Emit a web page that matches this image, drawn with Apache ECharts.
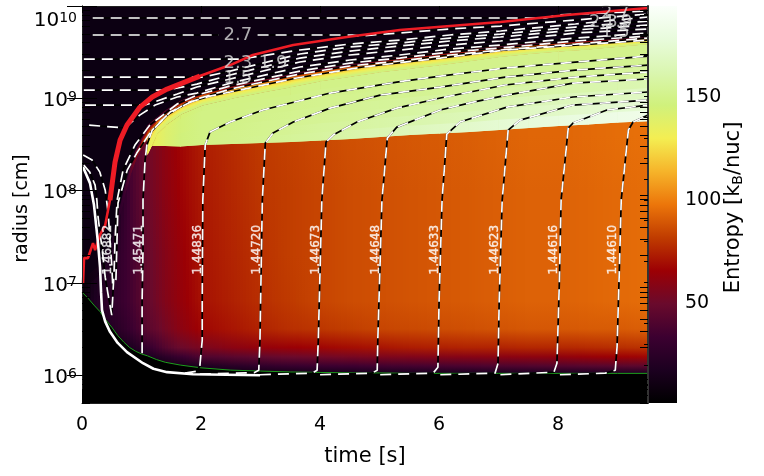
<!DOCTYPE html>
<html><head><meta charset="utf-8">
<style>html,body{margin:0;padding:0;background:#fff}#c{width:764px;height:476px}</style>
<script src="https://cdn.jsdelivr.net/npm/echarts@6/dist/echarts.min.js"></script>
</head><body><div id="c"></div>
<script>
// ---------- colour table (entropy 2..193, evenly spaced) ----------
const COLORMAP = ['#000000','#1c0020','#3c0030','#6a0a2c','#9c0004','#c03c00','#ec760a','#f6b42a','#f4ee52','#d0f17c','#daf6b0','#e8fbdc','#fbfffb'];
const S_MIN = 1.5, S_MAX = 194;
// ---------- background columns ----------
const TIMES = [0,.1,.2,.3,.4,.5,.6,.7,.8,.9,1,1.1,1.25,1.4,1.65,2,2.5,3,3.5,4,4.5,5,5.5,6,6.5,7,7.5,8,8.5,9,9.51];
const PNS_LOGR = [6.90,6.835,6.76,6.69,6.60,6.52,6.43,6.36,6.30,6.26,6.23,6.21,6.17,6.14,6.11,6.08,6.055,6.045,6.035,6.03,6.025,6.025,6.02,6.02,6.02,6.02,6.02,6.02,6.02,6.02,6.02];
const EDGE_LOGR = [6.900,6.987,7.041,7.095,7.203,7.366,7.637,7.908,8.146,8.341,8.472,8.569,8.710,8.797,8.905,9.003,9.079,9.144,9.203,9.263,9.312,9.360,9.398,9.436,9.474,9.512,9.545,9.566,9.588,9.610,9.631];
const BAND_DEX = [.1,.1,.1,.1,.1,.1,.1,.1,.1,.1,.1,.14,.08,.07,.065,.065,.065,.065,.065,.06,.06,.06,.06,.06,.055,.05,.05,.045,.045,.04,.035];
const BAND_PEAK = [8,10,12,14,16,20,25,32,42,58,75,132,136,140,146,150,150,150,150,150,150,150,150,150,150,150,150,150,150,150,150];
const BAND_OFFSETS = [1,.8,.6,.45,.3,.15,0,-.2,-.4,-.6,-.8,-1,-1.3];
const BAND_S = [9,30,55,72,85,100,112,118,125,130,136,140,145];
const FIRST_GREEN = 11;
const IFACE_LOGR = [8.482,8.482,8.482,8.477,8.493,8.504,8.515,8.526,8.542,8.558,8.580,8.602,8.618,8.634,8.656,8.678,8.699,8.715,8.737,8.753];
const GREEN_U = [0,.14,.28,.43,.57,.71,.86,1];
const GREEN_ROW1 = [130,134,138,143,147,148,148,148,149,149,150,150,150,150,150,150,150,150,150,150];
const GREEN_ROW2 = [130,134,139,144,148,148,149,149,150,150,151,151,151,152,152,152,152,152,152,152];
const GREEN_ROW3 = [130,134,139,144,148,148,150,150,151,151,152,152,153,154,154,155,155,155,155,156];
const GREEN_ROW4 = [130,134,139,144,148,149,150,151,152,153,154,155,156,157,158,159,160,160,161,162];
const GREEN_ROW5 = [130,134,139,145,148,149,151,152,153,154,156,157,159,160,162,164,165,166,167,168];
const GREEN_ROW6 = [130,134,139,145,148,150,151,153,155,156,158,160,162,164,166,168,170,172,173,175];
const GREEN_ROW7 = [130,134,139,145,148,150,152,154,156,159,162,165,168,171,174,176,178,180,182,183];
const WIND_LOGR = [8.6,8.0,7.3,6.8,6.5,6.3,6.2,6.1,6.03];
const WIND_R0 = [5,5,5,5,5,8,16,29,37,43,47,51,56,61,67,73,77,81,83,85,87,88,89,90,91,92,93,93,94,95,96];
const WIND_R1 = [5,5,5,5,5,8,15,28,36,42,46,50,55,60,66,72,76,80,82,84,86,87,88,89,90,91,92,92,93,94,95];
const WIND_R2 = [5,8,12,15,18,22,28,32,36,40,44,48,53,58,64,71,75,79,82,84,86,87,88,89,90,91,92,92,93,94,95];
const WIND_R3 = [5,12,18,22,26,28,30,33,36,40,44,47,52,57,63,70,74,78,81,84,86,87,88,89,90,91,92,92,93,94,95];
const WIND_R4 = [5,10,14,18,20,22,25,28,32,36,40,44,48,53,60,67,71,75,78,80,82,84,85,86,87,88,89,89,90,90,91];
const WIND_R5 = [3,4,6,8,10,12,14,16,18,22,26,30,36,42,50,55,60,63,65,67,69,71,73,74,75,75,76,76,77,78,79];
const WIND_R6 = [3,3,4,5,6,7,8,10,12,13,15,18,21,25,32,40,44,47,50,52,54,56,57,58,59,60,61,62,64,66,67];
const WIND_R7 = [2,2,3,3,4,4,5,6,7,8,9,10,11,12,14,18,24,28,31,33,34,36,37,38,39,40,41,42,43,44,45];
const WIND_R8 = [2,2,2,2,3,3,3,3,4,4,4,5,6,7,8,10,12,14,15,16,17,18,18,19,19,20,20,21,21,22,22];
// ---------- tracer lines: [time, log10 radius] ----------
const LINE_A = [[.18,9.87],[7.78,9.87],[8.03,9.905],[9.51,9.945]];
const LINE_B = [[.18,9.686],[2.3,9.686],null,[2.95,9.686],[4.54,9.686],[4.67,9.675],[5.34,9.707],[6.18,9.751],[7.03,9.783],[8.29,9.848],[9.51,9.913]];
const LINE_C = [[.03,9.425],[2.66,9.425],[3.66,9.523],[4.50,9.588],[5.34,9.631],[6.18,9.686],[7.03,9.729],[8.29,9.805],[9.51,9.881]];
const LINE_D = [[.03,9.23],[2.03,9.23],[2.49,9.295],[3.66,9.48],[4.50,9.556],[5.34,9.599],[6.18,9.653],[7.03,9.696],[8.29,9.772],[9.51,9.837]];
const LINE_E = [[.03,9.089],[1.43,9.089],[1.93,9.154],[2.49,9.252],[3.66,9.436],[4.50,9.512],[5.34,9.566],[6.18,9.621],[7.03,9.664],[8.29,9.74],[9.51,9.794]];
const LINE_F = [[.05,8.927],[1.06,8.927],[1.60,9.046],[1.93,9.122],[2.49,9.209],[3.66,9.393],[4.50,9.469],[5.34,9.523],[6.18,9.577],[7.03,9.621],[8.29,9.707],[9.51,9.751]];
const LINE_G = [[.12,8.71],[.72,8.678],[.97,8.818],[1.23,8.927],[1.60,9.014],[1.93,9.057],[2.49,9.165],[3.66,9.339],[4.50,9.415],[5.34,9.469],[6.18,9.534],[7.03,9.577],[8.29,9.653],[9.51,9.707]];
const LINE_H = [[.03,8.276],[.13,8.2],[.22,8.06],[.25,7.897],[.27,7.713],[.34,7.355],[.39,7.062],[.44,6.867],[.50,6.65],[.52,6.889],[.54,7.138],[.555,7.463],[.59,7.897],[.69,8.222],[.89,8.493],[1.14,8.71],[1.60,8.938],[1.93,9.035],[2.49,9.133],[3.66,9.295],[4.50,9.382],[5.34,9.436],[6.18,9.501],[7.03,9.545],[8.29,9.621],[9.51,9.675]];
const LINE_F1 = [[.02,8.385],[.17,8.331],[.30,8.2],[.39,8.005],[.44,7.756],[.47,7.463],[.50,7.192],[.52,6.921]];
const LINE_I = [[.57,7.03],[.605,7.865],[.76,8.222],[.92,8.407],[1.14,8.623],[1.48,8.851],[1.93,8.992],[2.49,9.1],[3.66,9.263],[4.5,9.35],[5.34,9.404],[6.18,9.469],[7.03,9.523],[8.29,9.588],[9.51,9.653]];
const TRACE_1 = [[1.01,6.238],[1.01,6.813],[1.025,7.355],[1.025,7.897],[1.06,8.331],[1.09,8.493],[1.18,8.656],[1.43,8.818],[1.76,8.949],[2.15,9.024],[2.49,9.068],[3.61,9.22],[4.72,9.339],[6.02,9.436],[7.11,9.523],[8.29,9.577],[9.51,9.631]];
const TRACE_2 = [[1.73,6.022],[1.92,6.043],[1.98,6.098],[2.02,6.379],[2.02,6.813],[2.03,7.897],[2.07,8.493],[2.15,8.634],[2.49,8.743],[3.04,8.873],[4.17,9.057],[5.29,9.176],[6.02,9.241],[7.11,9.328],[8.29,9.393],[9.51,9.458]];
const TRACE_3 = [[1.98,6.011],[2.89,6.027],[2.97,6.054],[2.99,6.379],[3.03,7.897],[3.08,8.515],[3.21,8.623],[3.55,8.743],[4.17,8.894],[5.01,9.035],[6.02,9.122],[7.11,9.23],[8.29,9.306],[9.51,9.36]];
const TRACE_4 = [[2.99,6.005],[3.87,6.022],[3.95,6.054],[3.97,6.379],[4.03,7.897],[4.10,8.526],[4.22,8.602],[4.62,8.743],[5.29,8.894],[6.02,9.003],[7.11,9.144],[8.29,9.23],[9.51,9.285]];
const TRACE_5 = [[4.0,6.005],[4.87,6.022],[4.96,6.054],[4.97,6.379],[5.04,7.897],[5.13,8.569],[5.29,8.688],[6.02,8.873],[6.57,8.959],[7.14,9.035],[8.25,9.165],[9.51,9.209]];
const TRACE_6 = [[5.01,6.005],[5.90,6.022],[5.98,6.087],[6.0,6.813],[6.05,7.897],[6.13,8.612],[6.35,8.743],[7.14,8.905],[8.25,9.014],[9.51,9.068]];
const TRACE_7 = [[6.02,6.005],[6.94,6.022],[6.99,6.13],[7.01,6.813],[7.06,7.897],[7.16,8.656],[7.36,8.764],[8.25,8.927],[9.51,8.981]];
const TRACE_8 = [[7.03,6.005],[7.93,6.033],[7.98,6.13],[8.02,6.997],[8.05,7.897],[8.17,8.678],[8.25,8.732],[8.82,8.873],[9.51,8.927]];
const TRACE_9 = [[8.03,6.005],[8.79,6.022],[8.96,6.054],[8.99,6.304],[9.03,7.171],[9.06,7.897],[9.18,8.656],[9.26,8.743],[9.51,8.818]];
const SURFACE = [[.017,8.255],[.134,8.081],[.2,7.85],[.269,7.431],[.303,7.171],[.32,6.9],[.336,6.705],[.39,6.58],[.471,6.47],[.6,6.35],[.756,6.25],[1.025,6.13],[1.2,6.07],[1.429,6.033],[1.866,6.011],[2.992,6.0]];
const SHOCK = [[.017,6.997],[.034,7.268],[.10,7.268],[.185,7.431],[.22,7.355],[.30,7.518],[.39,7.626],[.47,7.897],[.555,8.309],[.64,8.547],[.756,8.71],[.975,8.905],[1.18,9.014],[1.43,9.1],[1.98,9.241],[2.49,9.36],[2.87,9.469],[3.55,9.577],[4.45,9.664],[5.34,9.74],[7.03,9.827],[8.15,9.902],[9.51,9.978]];
const SHOCK_WIDE = [[.47,7.897],[.555,8.309],[.64,8.547],[.756,8.71],[.975,8.905],[1.18,9.014],[1.43,9.1],[1.98,9.241]];
// ---------- labels ----------
const YE_LABELS = [[.44,'1.46882'],[.96,'1.45471'],[1.95,'1.44836'],[2.94,'1.44720'],[3.93,'1.44673'],[4.94,'1.44648'],[5.93,'1.44633'],[6.94,'1.44623'],[7.93,'1.44616'],[8.92,'1.44610']];
const YE_LABEL_LOGR = 7.36;
const CONTOUR_LABELS = [[2.62,9.686,'2.7'],[2.62,9.382,'2.3'],[3.21,9.382,'1.9'],[2.62,9.22,'1.5'],[8.96,9.924,'2.7'],[8.76,9.827,'2.3'],[9.01,9.827,'1.9'],[8.96,9.718,'1.5']];
const X_MAX = 9.51, R_MIN = 5e5, R_MAX = 1e10;
const X_TICKS = [0,2,4,6,8];
const Y_TICKS = [1e6,1e7,1e8,1e9,1e10];
const Y_MINOR = []; for (let e=5;e<10;e++) for (let m=2;m<10;m++) { const v=m*Math.pow(10,e); if(v>=R_MIN) Y_MINOR.push(v); }
const BAR_TICKS = [10,20,30,40,50,60,70,80,90,100,110,120,130,140,150,160,170,180,190];
const BAR_LABELS = [50,100,150];
const FONT = 'DejaVu Sans';

const WIND = [WIND_R0,WIND_R1,WIND_R2,WIND_R3,WIND_R4,WIND_R5,WIND_R6,WIND_R7,WIND_R8];
const GREEN = [GREEN_ROW1,GREEN_ROW2,GREEN_ROW3,GREEN_ROW4,GREEN_ROW5,GREEN_ROW6,GREEN_ROW7];
const col = S => echarts.color.lerp(Math.max(0,Math.min(1,(S-2)/191)), COLORMAP);
const P = (api,t,l) => api.coord([t, Math.pow(10,l)]);
const hgrad = (a,b) => new echarts.graphic.LinearGradient(0,0,1,0,[{offset:0,color:a},{offset:1,color:b}]);

function windLayer(p,api){
  const children=[];
  const yT=P(api,0,10)[1], yB=P(api,0,5.7)[1];
  for(let i=0;i<TIMES.length-1;i++){
    const x0=P(api,TIMES[i],7)[0], x1=P(api,TIMES[i+1],7)[0];
    const n=Math.max(1,Math.ceil((x1-x0)/3));
    for(let s=0;s<n;s++){
      const f=(s+.5)/n;
      const stops=WIND_LOGR.map((l,k)=>({offset:(P(api,0,l)[1]-yT)/(yB-yT), color:col(WIND[k][i]*(1-f)+WIND[k][i+1]*f)}));
      const xa=Math.round(x0+(x1-x0)*s/n), xb=Math.round(x0+(x1-x0)*(s+1)/n);
      children.push({type:'rect',shape:{x:xa,y:yT,width:xb-xa,height:yB-yT},
        style:{fill:new echarts.graphic.LinearGradient(0,0,0,1,stops)}});
    }
  }
  return {type:'group',children};
}
function maskLayer(p,api){
  const lower=TIMES.map((t,i)=>P(api,t,PNS_LOGR[i]));
  const a=P(api,X_MAX,5.69), b=P(api,0,5.69);
  const upper=TIMES.map((t,i)=>P(api,t,EDGE_LOGR[i]+BAND_DEX[i]));
  const c=P(api,X_MAX,10.01), d=P(api,0,10.01);
  return {type:'group',children:[
    {type:'polygon',shape:{points:lower.concat([a,b])},style:{fill:'#000'}},
    {type:'polygon',shape:{points:upper.concat([c,d])},style:{fill:'#0c0012'}}
  ]};
}
function quad(api,i,topA,topB,botA,botB,ca,cb){
  const A=P(api,TIMES[i],topA),B=P(api,TIMES[i+1],topB),C=P(api,TIMES[i+1],botB),D=P(api,TIMES[i],botA);
  B[0]+=.6;C[0]+=.6;
  return {type:'polygon',shape:{points:[A,B,C,D]},style:{fill:hgrad(ca,cb)}};
}
function bandLayer(p,api){
  const children=[];
  const last=BAND_OFFSETS.length-1, zero=BAND_OFFSETS.indexOf(0);
  for(let i=0;i<TIMES.length-1;i++){
    const stop=i<FIRST_GREEN?zero:last;
    for(let j=0;j<stop;j++){
      const S=BAND_S[j+1], b=Math.min(j+2,stop);
      children.push(quad(api,i,
        EDGE_LOGR[i]+BAND_OFFSETS[j]*BAND_DEX[i],EDGE_LOGR[i+1]+BAND_OFFSETS[j]*BAND_DEX[i+1],
        EDGE_LOGR[i]+BAND_OFFSETS[b]*BAND_DEX[i],EDGE_LOGR[i+1]+BAND_OFFSETS[b]*BAND_DEX[i+1],
        col(Math.min(S,BAND_PEAK[i])),col(Math.min(S,BAND_PEAK[i+1]))));
    }
  }
  return {type:'group',children};
}
function greenLayer(p,api){
  const children=[];
  const low=BAND_OFFSETS[BAND_OFFSETS.length-1];
  const at=(i,u)=>{const top=EDGE_LOGR[i]+low*BAND_DEX[i],bot=IFACE_LOGR[i-FIRST_GREEN];return top+(bot-top)*u;};
  for(let i=FIRST_GREEN;i<TIMES.length-1;i++){
    for(let k=0;k<GREEN.length;k++){
      const b=Math.min(k+2,GREEN.length);
      children.push(quad(api,i,at(i,GREEN_U[k]),at(i+1,GREEN_U[k]),at(i,GREEN_U[b]),at(i+1,GREEN_U[b]),
        col(GREEN[k][i-FIRST_GREEN]),col(GREEN[k][i+1-FIRST_GREEN])));
    }
  }
  return {type:'group',children};
}
function barLayer(p,api){
  const a=api.coord([0,S_MAX]), b=api.coord([1,S_MIN]);
  const stops=COLORMAP.map((c,i)=>({offset:1-i/(COLORMAP.length-1),color:c})).reverse();
  return {type:'rect',shape:{x:a[0],y:a[1],width:b[0]-a[0],height:b[1]-a[1]},
    style:{fill:new echarts.graphic.LinearGradient(0,0,0,1,stops)}};
}
const layer=(fn,z,xi=0,yi=0,d=[[0,1e7]])=>({type:'custom',renderItem:fn,xAxisIndex:xi,yAxisIndex:yi,data:d,z,silent:true,clip:true,animation:false,encode:{x:0,y:1}});
const toXY=a=>a.map(p=>p?[p[0],Math.pow(10,p[1])]:['-','-']);
const tracer=(a,z=5)=>[
  {type:'line',data:toXY(a),showSymbol:false,silent:true,z,animation:false,lineStyle:{color:'#000',width:1.7}},
  {type:'line',data:toXY(a),showSymbol:false,silent:true,z:z+.1,animation:false,lineStyle:{color:'#fff',width:1.7,type:[11,7]}}
];
const plain=(a,color,width,z)=>({type:'line',data:toXY(a),showSymbol:false,silent:true,z,animation:false,lineStyle:{color,width}});

const axisTxt={color:'#000',fontFamily:FONT,fontSize:19};
const line={show:true,lineStyle:{color:'#222',width:1}};
const GRID={outerBoundsMode:'none',containLabel:false};
const option={
  animation:false,backgroundColor:'#fff',
  grid:[{...GRID,left:82,top:6,width:566,height:397},{...GRID,left:648,top:6,width:29,height:397}],
  xAxis:[
    {type:'value',gridIndex:0,min:0,max:X_MAX,position:'bottom',z:8,name:'time [s]',nameLocation:'middle',nameGap:43,nameMoveOverlap:false,
      nameTextStyle:{...axisTxt,fontSize:21},axisLine:line,splitLine:{show:false},
      axisTick:{inside:true,length:13,customValues:X_TICKS,lineStyle:{color:'#000'}},
      axisLabel:{...axisTxt,margin:13,customValues:X_TICKS}},
    {type:'value',gridIndex:0,min:0,max:X_MAX,position:'top',z:8,axisLine:line,splitLine:{show:false},
      axisTick:{inside:true,length:7,customValues:X_TICKS,lineStyle:{color:'#000'}},axisLabel:{show:false}},
    {type:'value',gridIndex:1,min:0,max:1,show:false}
  ],
  yAxis:[
    {type:'log',logBase:10,gridIndex:0,min:R_MIN,max:R_MAX,position:'left',z:8,name:'radius [cm]',nameLocation:'middle',nameGap:50,nameMoveOverlap:false,
      nameTextStyle:{...axisTxt,fontSize:19,padding:[0,8,0,0]},axisLine:line,splitLine:{show:false},minorTick:{show:false},
      axisTick:{inside:true,length:15,customValues:Y_TICKS,lineStyle:{color:'#000'}},
      axisLabel:{margin:5,customValues:Y_TICKS,padding:[5,0,0,0],verticalAlignMaxLabel:'top',formatter:v=>'{b|10}{s|'+Math.round(Math.log10(v))+'}',
        rich:{b:{...axisTxt,fontSize:20},s:{...axisTxt,fontSize:14,verticalAlign:'top',padding:[0,0,6,0]}}}},
    {type:'log',logBase:10,gridIndex:0,min:R_MIN,max:R_MAX,position:'right',z:8,axisLine:line,splitLine:{show:false},minorTick:{show:false},
      axisTick:{inside:true,length:15,customValues:Y_TICKS,lineStyle:{color:'#000'}},axisLabel:{show:false}},
    {type:'log',logBase:10,gridIndex:0,min:R_MIN,max:R_MAX,position:'right',z:8,axisLine:{show:false},splitLine:{show:false},minorTick:{show:false},
      axisTick:{inside:true,length:8,customValues:Y_MINOR,lineStyle:{color:'#000'}},axisLabel:{show:false}},
    {type:'log',logBase:10,gridIndex:0,min:R_MIN,max:R_MAX,position:'left',z:8,axisLine:{show:false},splitLine:{show:false},minorTick:{show:false},
      axisTick:{inside:true,length:8,customValues:Y_MINOR,lineStyle:{color:'#000'}},axisLabel:{show:false}},
    {type:'value',gridIndex:1,min:S_MIN,max:S_MAX,position:'right',z:8,name:'{a|Entropy [k}{b|B}{a|/nuc]}',nameLocation:'middle',nameGap:46,nameMoveOverlap:false,
      nameTextStyle:{padding:[0,6,0,0],rich:{a:{...axisTxt,fontSize:21},b:{...axisTxt,fontSize:14,verticalAlign:'bottom',padding:[8,0,0,0]}}},
      axisLine:{show:true,lineStyle:{color:'#333',width:2}},splitLine:{show:false},
      axisTick:{inside:true,length:4,customValues:BAR_TICKS,lineStyle:{color:'#000'}},
      axisLabel:{...axisTxt,margin:8,customValues:BAR_LABELS}}
  ],
  series:[
    layer(windLayer,1),layer(maskLayer,2),layer(bandLayer,3),layer(greenLayer,4),
    layer(barLayer,1,2,4),
    plain(PNS_LOGR.map((l,i)=>[TIMES[i],l]),'#1c9e1c',1,5),
    ...[LINE_A,LINE_B,LINE_C,LINE_D,LINE_E,LINE_F,LINE_G,LINE_H,LINE_F1,LINE_I,TRACE_1,TRACE_2,TRACE_3,TRACE_4,TRACE_5,TRACE_6,TRACE_7,TRACE_8,TRACE_9].flatMap(a=>tracer(a)),
    plain(SHOCK,'#ee1c25',2.6,6),
    plain(SHOCK_WIDE,'#ee1c25',5,6),
    plain(SURFACE,'#fff',2.6,6),
    {type:'scatter',data:YE_LABELS.map(d=>[d[0],Math.pow(10,YE_LABEL_LOGR),d[1]]),symbolSize:0,z:7,silent:true,animation:false,
      label:{show:true,position:'inside',rotate:90,formatter:p=>p.value[2],color:'#fff',fontFamily:FONT,fontSize:12,textBorderColor:'#fff',textBorderWidth:.4}},
    {type:'scatter',data:CONTOUR_LABELS.map(d=>[d[0],Math.pow(10,d[1]),d[2]]),symbolSize:0,z:7,silent:true,animation:false,
      label:{show:true,position:'inside',formatter:p=>p.value[2],color:'#d8d8d8',fontFamily:FONT,fontSize:18}}
  ]
};
echarts.init(document.getElementById('c'),null,{renderer:'canvas'}).setOption(option);
</script></body></html>
